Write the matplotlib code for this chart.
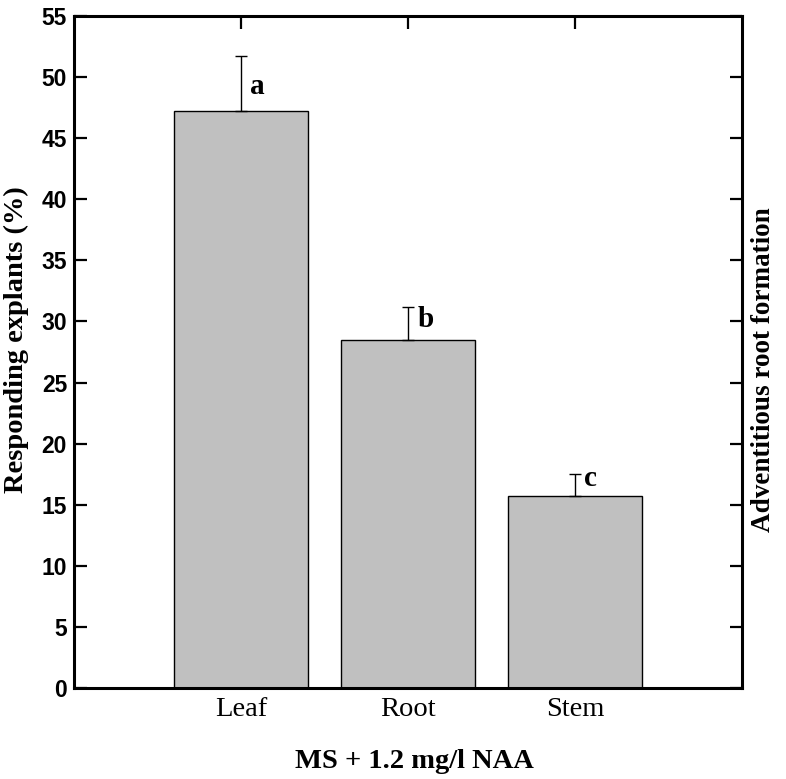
import matplotlib
matplotlib.use("Agg")
import matplotlib.pyplot as plt

categories = ["Leaf", "Root", "Stem"]
values = [47.2, 28.5, 15.7]
errors = [4.5, 2.65, 1.85]
letters = ["a", "b", "c"]
letter_y = [49.25, 30.15, 17.15]
yticks = [0, 5, 10, 15, 20, 25, 30, 35, 40, 45, 50, 55]

fig = plt.figure(figsize=(7.86, 7.79), dpi=100)
ax = fig.add_axes([74/786, 1-688.3/779, (742-74)/786, (688.3-15.7)/779])

pos = [1, 2, 3]
ax.bar(pos, values, width=0.8, color="#c0c0c0", edgecolor="black", linewidth=1.0, zorder=2)
ax.errorbar(pos, values, yerr=[[0]*3, errors], fmt="none", ecolor="black",
            elinewidth=1.0, capsize=4, capthick=1.0, zorder=3)

for p, l, y in zip(pos, letters, letter_y):
    ax.text(p + 0.055, y, l, ha="left", va="center", fontsize=21,
            fontweight="bold", family="Liberation Serif")

ax.set_xlim(0, 4)
ax.set_ylim(0, 55)
ax.set_xticks(pos)
ax.set_xticklabels(categories, family="Liberation Serif", fontsize=20.5)
ax.set_yticks(yticks)
ax.set_yticklabels([str(v) for v in yticks], family="Liberation Sans",
                   fontweight="bold", fontsize=16.5)
ax.tick_params(axis="both", direction="in", length=9, width=1.6,
               top=True, right=True, labeltop=False, labelright=False)
ax.tick_params(axis="y", pad=5)
ax.tick_params(axis="x", pad=6)
for s in ax.spines.values():
    s.set_linewidth(2.2)

fig.text(414/786, 1-762/779, "MS + 1.2 mg/l NAA", ha="center", va="center",
         fontsize=20.5, fontweight="bold", family="Liberation Serif")
fig.text(16/786, 1-340/779, "Responding explants (%)", ha="center", va="center",
         rotation=90, fontsize=20.5, fontweight="bold", family="Liberation Serif")
fig.text(763/786, 1-370/779, "Adventitious root formation", ha="center", va="center",
         rotation=90, fontsize=19.5, fontweight="bold", family="Liberation Serif")

fig.savefig("out.png", dpi=100)
